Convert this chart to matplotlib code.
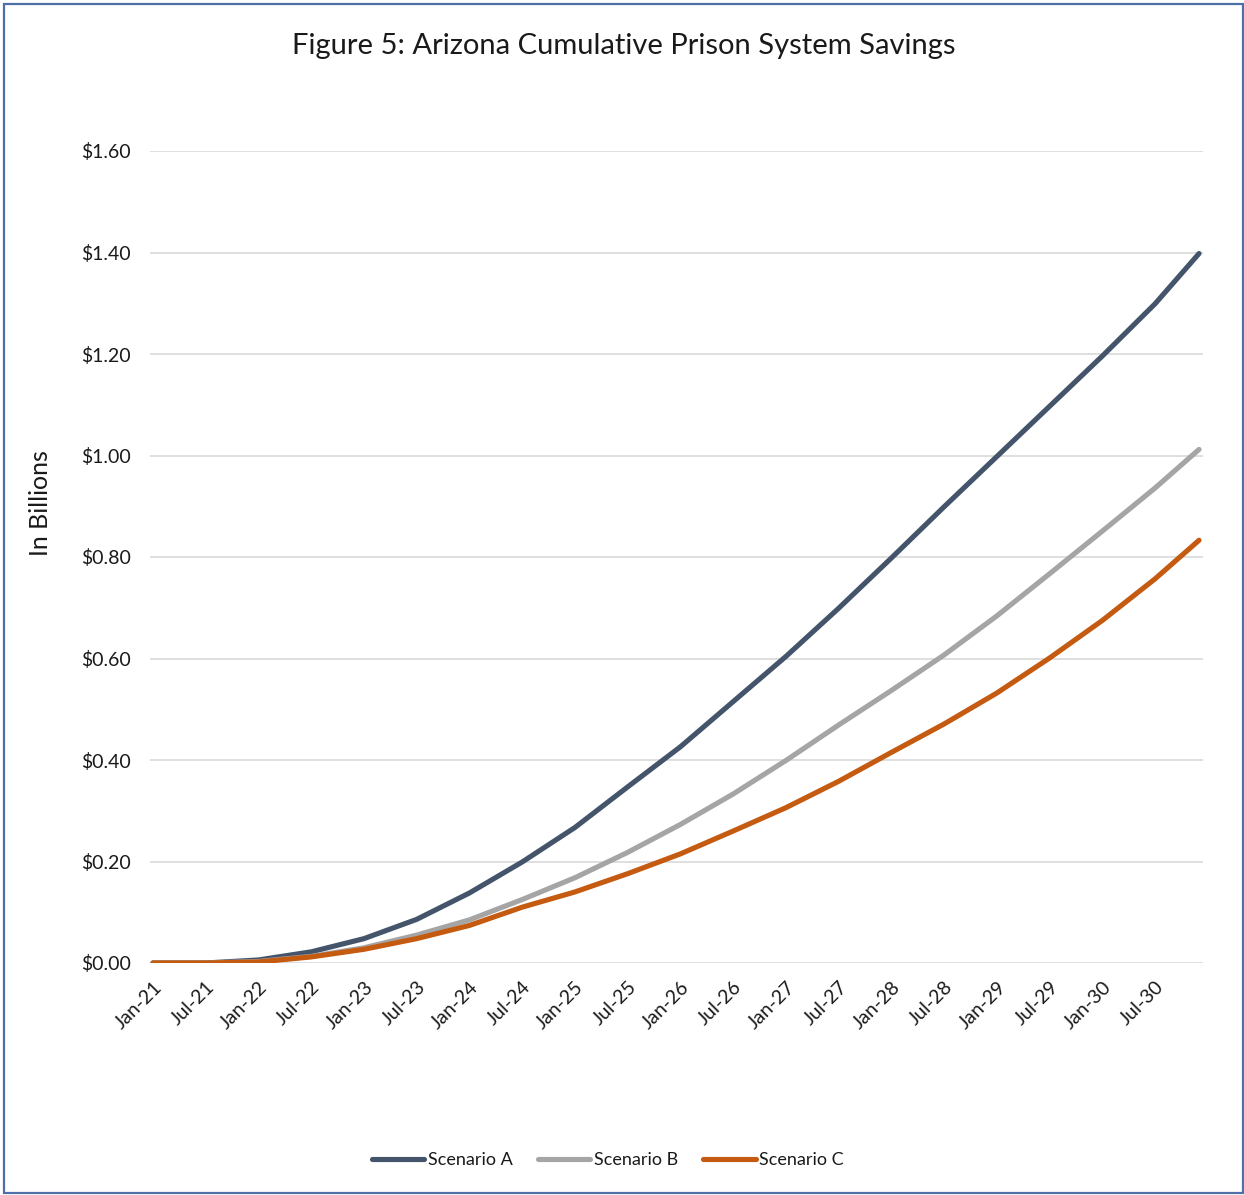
import numpy as np
import matplotlib
matplotlib.use("Agg")
import matplotlib.pyplot as plt
from matplotlib.patches import Rectangle
from matplotlib.lines import Line2D

plt.rcParams["font.family"] = ["Lato", "DejaVu Sans"]

# Cumulative savings (billions of dollars), semi-annual readings plus the final month
periods = ["2021-01", "2021-07", "2022-01", "2022-07", "2023-01", "2023-07",
           "2024-01", "2024-07", "2025-01", "2025-07", "2026-01", "2026-07",
           "2027-01", "2027-07", "2028-01", "2028-07", "2029-01", "2029-07",
           "2030-01", "2030-07", "2030-12"]
scenario_a = [0.000, 0.000, 0.006, 0.022, 0.048, 0.086, 0.138, 0.199, 0.267,
              0.347, 0.426, 0.515, 0.604, 0.699, 0.798, 0.899, 0.998, 1.097,
              1.196, 1.299, 1.398]
scenario_b = [0.000, 0.000, 0.003, 0.013, 0.030, 0.055, 0.085, 0.125, 0.168,
              0.218, 0.273, 0.333, 0.399, 0.469, 0.537, 0.607, 0.684, 0.767,
              0.851, 0.936, 1.012]
scenario_c = [0.000, 0.000, 0.002, 0.012, 0.027, 0.048, 0.074, 0.110, 0.140,
              0.176, 0.215, 0.260, 0.306, 0.358, 0.415, 0.471, 0.532, 0.601,
              0.675, 0.757, 0.833]
series_names = ["Scenario A", "Scenario B", "Scenario C"]
series_colors = ["#44546A", "#A5A5A5", "#C55A11"]

tick_labels = ["Jan-21", "Jul-21", "Jan-22", "Jul-22", "Jan-23", "Jul-23",
               "Jan-24", "Jul-24", "Jan-25", "Jul-25", "Jan-26", "Jul-26",
               "Jan-27", "Jul-27", "Jan-28", "Jul-28", "Jan-29", "Jul-29",
               "Jan-30", "Jul-30"]
y_ticks = [0.0, 0.2, 0.4, 0.6, 0.8, 1.0, 1.2, 1.4, 1.6]

# month offsets from the first period
month_idx = (np.array(periods, dtype="datetime64[M]")
             - np.datetime64(periods[0], "M")).astype(int)
tick_pos = month_idx[:len(tick_labels)]

W, H = 1244, 1195
fig = plt.figure(figsize=(W / 100, H / 100), dpi=100)
fig.patch.set_facecolor("white")

ax = fig.add_axes([150 / W, (H - 963) / H, 1053 / W, 812 / H])
ax.set_xlim(-0.34, month_idx[-1] + 0.45)
ax.set_ylim(0, 1.6)

for vals, name, col in zip([scenario_a, scenario_b, scenario_c], series_names, series_colors):
    ax.plot(month_idx, vals, color=col, lw=3.7, solid_capstyle="round",
            solid_joinstyle="round", label=name, zorder=3)

ax.set_yticks(y_ticks)
ax.set_yticklabels([f"${v:.2f}" for v in y_ticks])
ax.set_xticks(tick_pos)
ax.set_xticklabels(tick_labels, rotation=45, ha="right", va="top",
                   rotation_mode="anchor")
ax.tick_params(axis="both", length=0, labelsize=14, colors="#1a1a1a")
ax.tick_params(axis="y", pad=14)
ax.tick_params(axis="x", pad=11)
ax.grid(axis="y", color="#D9D9D9", lw=1.2, zorder=0)
ax.grid(axis="x", visible=False)
for s in ax.spines.values():
    s.set_visible(False)

fig.text(624 / W, 1 - 46 / H, "Figure 5: Arizona Cumulative Prison System Savings",
         ha="center", va="center", fontsize=21, color="#1a1a1a")
fig.text(40 / W, 1 - 503 / H, "In Billions", rotation=90, ha="center",
         va="center", fontsize=18, color="#1a1a1a")

handles = [Line2D([0], [0], color=c, lw=3.7, solid_capstyle="round") for c in series_colors]
fig.legend(handles, series_names, loc="center", bbox_to_anchor=(608 / W, (H - 1160) / H),
           ncol=3, frameon=False, fontsize=13, handlelength=2.9, handletextpad=0.2,
           columnspacing=1.4, labelcolor="#1a1a1a")

fig.patches.append(Rectangle((4 / W, 2 / H), (1243 - 4) / W, (1191 - 2) / H,
                             transform=fig.transFigure, fill=False,
                             edgecolor="#4F6FA8", lw=1.6))

fig.savefig("out.png", dpi=100, facecolor="white")
